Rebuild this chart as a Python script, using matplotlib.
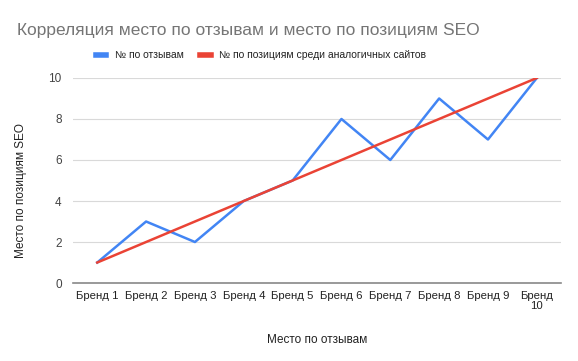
import matplotlib.pyplot as plt

# Data
brands = ["Бренд 1", "Бренд 2", "Бренд 3", "Бренд 4", "Бренд 5",
          "Бренд 6", "Бренд 7", "Бренд 8", "Бренд 9", "Бренд\n10"]
by_reviews = [1, 3, 2, 4, 5, 8, 6, 9, 7, 10]
by_seo = [1, 2, 3, 4, 5, 6, 7, 8, 9, 10]
y_ticks = [0, 2, 4, 6, 8, 10]

plt.rcParams['font.family'] = ['Liberation Sans', 'DejaVu Sans']

fig = plt.figure(figsize=(5.78, 3.61), dpi=100)
ax = fig.add_axes([0.126, 0.216, 0.845, 0.568])

x = range(len(brands))
ax.plot(x, by_reviews, color="#4285F4", lw=1.8, label="№ по отзывам")
ax.plot(x, by_seo, color="#EA4335", lw=1.8, label="№ по позициям среди аналогичных сайтов")

ax.set_xlim(-0.5, len(brands) - 0.5)
ax.set_ylim(0, 10)
ax.set_yticks(y_ticks)
ax.set_xticks(list(x))
ax.set_xticklabels(brands, fontsize=8.2, color="#222222", linespacing=1.0)
ax.tick_params(axis="y", labelsize=8.5, labelcolor="#444444", length=0, pad=8)
ax.tick_params(axis="x", length=0, pad=6)

ax.grid(axis="y", color="#d9d9d9", lw=0.8)
ax.set_axisbelow(True)
for s in ["top", "right", "left"]:
    ax.spines[s].set_visible(False)
ax.spines["bottom"].set_color("#888888")
ax.spines["bottom"].set_linewidth(1.2)

ax.set_xlabel("Место по отзывам", fontsize=8.5, color="#222222", labelpad=16)
ax.set_ylabel("Место по позициям SEO", fontsize=8.5, color="#222222")
ax.yaxis.set_label_coords(-0.094, 0.45)

fig.text(0.029, 0.915, "Корреляция место по отзывам и место по позициям SEO",
         fontsize=12.5, color="#757575", va="center", ha="left")

ax.legend(loc="center", bbox_to_anchor=(0.385, 1.112), ncol=2, frameon=False,
          fontsize=7.5, handlelength=1.0, handleheight=0.5, columnspacing=1.6,
          handletextpad=0.8, labelcolor="#222222")
for h in ax.get_legend().get_lines():
    h.set_linewidth(4)

plt.savefig("out.png", dpi=100)
